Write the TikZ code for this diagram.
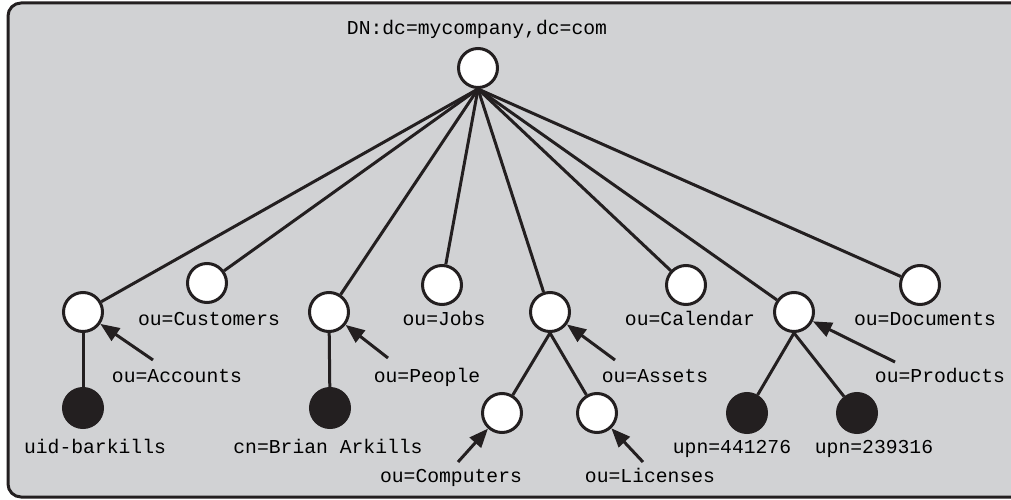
\documentclass[tikz,border=0pt]{standalone}
\usepackage{fontspec}
\setmonofont{Liberation Mono}
\usetikzlibrary{arrows.meta}
\definecolor{ink}{HTML}{231F20}
\definecolor{panel}{HTML}{D1D2D4}
\begin{document}
\begin{tikzpicture}[x=1pt, y=-1pt,
   entry/.style={draw=ink, circle, fill=white, line width=3pt, minimum size=39pt, inner sep=0pt},
   leaf/.style={entry, fill=ink},
   dn/.style={anchor=base, inner sep=0pt, font=\ttfamily\fontsize{19.7}{22}\selectfont},
   link/.style={draw=ink, line width=3pt},
   pointer/.style={link, -{Triangle[length=19pt, width=15pt]}}]

\useasboundingbox (0,0) rectangle (1011,500);
\clip (0,0) rectangle (1011,500);
\draw[draw=ink, fill=panel, line width=3pt, rounded corners=13pt] (8,3) rectangle (1030,497);

\node[entry] (root) at (478,68) {};
\node[dn] (rootl) at (477,35) {DN:dc=mycompany,dc=com};

\node[entry] (acc) at (83,312) {};
\node[entry] (cus) at (207,283) {};
\node[entry] (peo) at (329,312) {};
\node[entry] (job) at (442,285) {};
\node[entry] (ass) at (550,312) {};
\node[entry] (cal) at (686,285) {};
\node[entry] (pro) at (794,312) {};
\node[entry] (doc) at (920,285) {};

\node[leaf] (uid) at (83,408) {};
\node[leaf] (cn) at (330,408) {};
\node[entry] (com) at (502,413) {};
\node[entry] (lic) at (597,413) {};
\node[leaf] (upna) at (747,413) {};
\node[leaf] (upnb) at (857,413) {};

\node[dn] (cusl) at (209,325) {ou=Customers};
\node[dn] (jobl) at (444,325) {ou=Jobs};
\node[dn] (call) at (690,325) {ou=Calendar};
\node[dn] (docl) at (925,325) {ou=Documents};
\node[dn] (accl) at (177,382) {ou=Accounts};
\node[dn] (peol) at (427,382) {ou=People};
\node[dn] (assl) at (655,382) {ou=Assets};
\node[dn] (prol) at (940,382) {ou=Products};
\node[dn] (uidl) at (95,453) {uid-barkills};
\node[dn] (cnl) at (328,453) {cn=Brian Arkills};
\node[dn] (upnal) at (732,453) {upn=441276};
\node[dn] (upnbl) at (874,453) {upn=239316};
\node[dn] (coml) at (451,482) {ou=Computers};
\node[dn] (licl) at (650,482) {ou=Licenses};

\draw[link] (root.south) -- (acc);
\draw[link] (root.south) -- (cus);
\draw[link] (root.south) -- (peo);
\draw[link] (root.south) -- (job);
\draw[link] (root.south) -- (ass);
\draw[link] (root.south) -- (cal);
\draw[link] (root.south) -- (pro);
\draw[link] (root.south) -- (doc);
\draw[link] (acc) -- (uid);
\draw[link] (peo) -- (cn);
\draw[link] (ass.south) -- (com);
\draw[link] (ass.south) -- (lic);
\draw[link] (pro.south) -- (upna);
\draw[link] (pro.south) -- (upnb);

\coordinate (acct) at (153,360);
\coordinate (peot) at (388,358);
\coordinate (asst) at (615,360);
\coordinate (prot) at (895,362);
\coordinate (comt) at (458,462);
\coordinate (lict) at (643,462);
\draw[pointer] (acct) -- (acc);
\draw[pointer] (peot) -- (peo);
\draw[pointer] (asst) -- (ass);
\draw[pointer] (prot) -- (pro);
\draw[pointer] (comt) -- (com);
\draw[pointer] (lict) -- (lic);

\end{tikzpicture}
\end{document}
